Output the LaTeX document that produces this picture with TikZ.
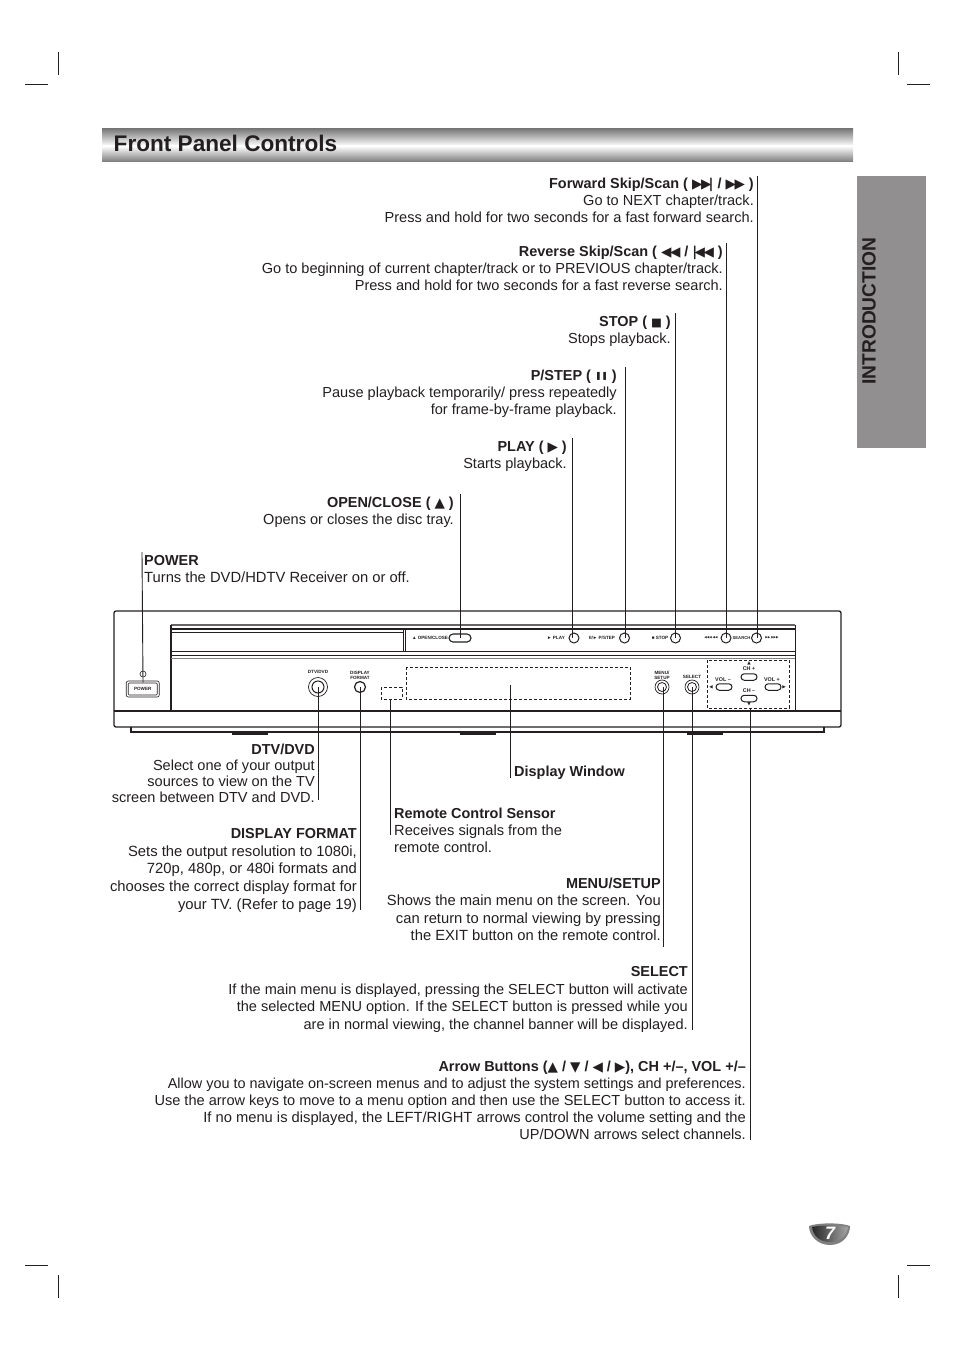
\documentclass[tikz,border=0pt]{standalone}
\usepackage{fontspec}
\setmainfont{Liberation Sans}
\newfontfamily\symf{DejaVu Sans}
\usetikzlibrary{shapes.geometric,shapes.misc}
\definecolor{ink}{HTML}{231F20}
\definecolor{tabgray}{HTML}{918F90}
\newcommand\sy[1]{{\symf\fontsize{13.5}{12}\selectfont #1}}
\newcommand\kn{\kern-1.4pt}
\newcommand\hd[1]{{\fontsize{14.45}{17}\selectfont\bfseries #1}}
\newcommand\ls[2]{{\fontsize{#1}{17}\selectfont #2}}
\tikzset{
 lead/.style={draw=ink,line width=0.9pt},
 crop/.style={draw=ink,line width=0.8pt},
 rtext/.style={anchor=north east,align=right,inner xsep=3pt,inner ysep=2.5pt,text=ink,font=\fontsize{14.55}{17}\selectfont},
 ltext/.style={anchor=north west,align=left,inner xsep=2pt,inner ysep=2.5pt,text=ink,font=\fontsize{14.65}{17}\selectfont},
 body/.style={draw=ink,line width=1.3pt},
 fine/.style={draw=ink,line width=0.7pt},
 tinylab/.style={inner sep=0pt,text=ink,font=\fontsize{4.6}{5}\selectfont\bfseries},
 smalllab/.style={inner sep=0pt,text=ink,font=\fontsize{5.4}{6}\selectfont\bfseries},
 dashbox/.style={draw=ink,line width=0.7pt,dash pattern=on 3pt off 2pt},
 knob/.style={circle,draw=ink,line width=1pt,fill=white,inner sep=0pt,minimum size=10pt},
 pill/.style={rounded rectangle,draw=ink,line width=1pt,fill=white,inner sep=0pt,minimum width=16pt,minimum height=6.5pt},
 foot/.style={fill=ink,draw=none},
 tri/.style={inner sep=0pt,text=ink,font=\symf\fontsize{4.5}{5}\selectfont},
}
\begin{document}
\begin{tikzpicture}[x=1pt,y=-1pt]
\useasboundingbox (0,0) rectangle (954,1351);
\fill[white] (0,0) rectangle (954,1351);
% crop marks
\foreach \a/\b/\c/\d in {25/84/48/84,58/52/58/75,907/84/930/84,898/52/898/75,25/1265/48/1265,58/1275/58/1298,907/1265/930/1265,898/1275/898/1298}
 \draw[crop] (\a,\b) -- (\c,\d);
% title band
\shade[top color=black!52,bottom color=white] (102,129) rectangle (853,146);
\shade[top color=white,bottom color=black!52] (102,146) rectangle (853,162);
\node[anchor=base west,inner sep=0pt,text=ink,font=\fontsize{22.6}{26}\selectfont\bfseries] (title) at (113.5,152) {Front Panel Controls};
% side tab
\fill[tabgray] (857,176) rectangle (926,448);
\node[rotate=90,inner sep=0pt,text=ink,font=\fontsize{19.2}{20}\selectfont\bfseries] (tab) at (869,311) {INTRODUCTION};
% badge
\fill[black!50] (809,1226) .. controls (818,1222.5) and (841,1222.5) .. (850,1226) .. controls (850,1235) and (843,1245) .. (830,1245) .. controls (817,1245) and (809,1235) .. (809,1226) -- cycle;
\shade[left color=black!85,right color=black!35] (812,1227) .. controls (820,1225) and (839,1225) .. (848,1227) .. controls (847,1235) and (841,1242) .. (830,1242) .. controls (819,1242) and (813,1235) .. (812,1227) -- cycle;
\node[inner sep=0pt,text=white,font=\fontsize{18}{18}\selectfont\bfseries\itshape] (page) at (830,1233.5) {7};
% device
\draw[body,rounded corners=2pt] (114,611) rectangle (841,727);
\draw[body] (114,711) -- (841,711);
\draw[body] (131,727) -- (131,732) -- (824,732) -- (824,727);
\fill[foot] (232,731) rectangle (268,734.5);
\fill[foot] (460,731) rectangle (496,734.5);
\fill[foot] (687,731) rectangle (723,734.5);
\draw[draw=black!60,line width=1.2pt] (171,625) -- (795,625);
\draw[body] (171,629) -- (795,629);
\draw[body] (171,625) -- (171,711);
\draw[fine] (795,625) -- (795,711);
\draw[fine] (171,632) -- (403,632);
\draw[fine] (171,651) -- (795,651);
\draw[fine] (403,629) -- (403,651) (405,629) -- (405,651);
\draw[fine] (171,655) -- (795,655);
\draw[draw=black!50,line width=0.8pt] (171,658) -- (795,658);
% dashed
\draw[dashbox] (406,667) rectangle (630,699);
\draw[dashbox] (381,687) rectangle (402,699);
\draw[dashbox] (707,660) rectangle (789,708);
% controls
\node[draw=ink,rounded corners=2pt,line width=0.6pt,minimum width=33pt,minimum height=16pt,inner sep=0pt] (pwrO) at (142.7,689) {};
\node[draw=ink,rounded corners=1pt,line width=0.6pt,minimum width=29pt,minimum height=12pt,inner sep=0pt,tinylab] (bPower) at (142.7,689) {POWER};
\node[circle,draw=ink,line width=0.6pt,minimum size=6pt,inner sep=0pt] (led) at (143,674) {};
\node[tinylab] (lDtv) at (318,672) {DTV/DVD};
\node[knob,minimum size=19pt,line width=0.7pt] (bDtvO) at (318,687) {};
\node[knob,minimum size=12pt] (bDtv) at (318,687) {};
\node[tinylab,align=center] (lDisp) at (360,675) {DISPLAY\\FORMAT};
\node[knob,minimum size=11pt,line width=1.2pt] (bDisp) at (360,687) {};
\node[tinylab] (lOpen) at (430,638) {▲ OPEN/CLOSE};
\node[pill,minimum width=22pt,minimum height=8pt,line width=1.1pt] (bOpen) at (460,638) {};
\node[tinylab] (lPlay) at (556,638) {► PLAY};
\node[knob] (bPlay) at (574,638) {};
\node[tinylab] (lStep) at (602,638) {II/► P/STEP};
\node[knob] (bStep) at (624.5,638) {};
\node[tinylab] (lStop) at (660,638) {■ STOP};
\node[knob] (bStop) at (675.5,638) {};
\node[tinylab,font=\symf\fontsize{3.2}{5}\selectfont] (lRev) at (711,638) {◀◀◀ ◀◀};
\node[knob] (bRev) at (726,638) {};
\node[tinylab,font=\fontsize{4.2}{5}\selectfont\bfseries] (lSearch) at (741.5,638) {SEARCH};
\node[knob] (bFwd) at (756.5,638) {};
\node[tinylab,font=\symf\fontsize{3.2}{5}\selectfont] (lFwd) at (772,638) {▶▶ ▶▶▶};
\node[tinylab,align=center] (lMenu) at (662,675) {MENU/\\SETUP};
\node[knob,minimum size=14pt,line width=0.7pt] (bMenuO) at (662,687) {};
\node[knob,minimum size=9pt,line width=0.8pt] (bMenu) at (662,687) {};
\node[tinylab] (lSel) at (692,677) {SELECT};
\node[knob,minimum size=14pt,line width=0.7pt] (bSelO) at (692,687) {};
\node[knob,minimum size=9pt,line width=0.8pt] (bSel) at (692,687) {};
\node[tri] (tUp) at (749,663) {▲};
\node[smalllab] (lChP) at (749,668.5) {CH +};
\node[pill] (bChP) at (749,677) {};
\node[smalllab] (lVolM) at (723,679.5) {VOL –};
\node[tri] (tL) at (711,687) {◀};
\node[pill] (bVolM) at (724,687) {};
\node[smalllab] (lVolP) at (772,679.5) {VOL +};
\node[pill] (bVolP) at (773,687) {};
\node[tri] (tR) at (784,687) {▶};
\node[smalllab] (lChM) at (749,691) {CH –};
\node[pill] (bChM) at (749,698.5) {};
\node[tri] (tDn) at (749,704.5) {▼};
\coordinate (bWin) at (510,685);
\coordinate (bRemote) at (390,699);
\coordinate (bArrow) at (750,708);
% upper texts
\node[rtext,inner ysep=1.5pt] (fwd) at (757,176) {\hd{Forward Skip/Scan ( \sy{▶\kn▶\kn\kn|} / \sy{▶\kn▶} )}\\Go to NEXT chapter/track.\\\ls{14.6}{Press and hold for two seconds for a fast forward search.}};
\node[rtext] (rev) at (726,243) {\hd{Reverse Skip/Scan ( \sy{◀\kn◀} / \sy{|\kn\kn◀\kn◀} )}\\Go to beginning of current chapter/track or to PREVIOUS chapter/track.\\Press and hold for two seconds for a fast reverse search.};
\node[rtext,inner xsep=4pt] (stop) at (675,313) {\hd{STOP ( {\symf\fontsize{11.5}{12}\selectfont ■} )}\\Stops playback.};
\node[rtext,inner xsep=8pt] (step) at (625,367) {\hd{P/STEP ( \raisebox{1.5pt}{\symf\fontsize{8}{12}\selectfont ❚\kern-0.5pt❚} )}\\Pause playback temporarily/ press repeatedly\\for frame-by-frame playback.};
\node[rtext,inner xsep=5pt] (play) at (572,438) {\hd{PLAY ( \sy{▶} )}\\Starts playback.};
\node[rtext,inner xsep=6pt] (open) at (460,494) {\hd{OPEN/CLOSE ( \sy{▲} )}\\Opens or closes the disc tray.};
\node[ltext,inner ysep=3.5pt,font=\fontsize{14.75}{17}\selectfont] (power) at (142,552) {\hd{POWER}\\Turns the DVD/HDTV Receiver on or off.};
% lower texts
\node[rtext,font=\fontsize{14.55}{16.2}\selectfont] (dtv) at (318,741) {\hd{DTV/DVD}\\Select one of your output\\sources to view on the TV\\screen between DTV and DVD.};
\node[rtext,font=\fontsize{14.8}{17.6}\selectfont] (fmt) at (360,826) {\hd{DISPLAY FORMAT}\\Sets the output resolution to 1080i,\\720p, 480p, or 480i formats and\\chooses the correct display format for\\your TV. (Refer to page 19)};
\node[ltext] (win) at (512,763) {\hd{Display Window}};
\node[ltext] (remote) at (392,805) {\hd{Remote Control Sensor}\\Receives signals from the\\remote control.};
\node[rtext,inner xsep=2pt,font=\fontsize{14.75}{17.6}\selectfont] (menu) at (663,875) {\hd{MENU/SETUP}\\Shows the main menu on the screen. You\\can return to normal viewing by pressing\\the EXIT button on the remote control.};
\node[rtext,inner xsep=4pt,font=\fontsize{14.55}{17.4}\selectfont] (sel) at (692,964) {\hd{SELECT}\\If the main menu is displayed, pressing the SELECT button will activate\\the selected MENU option. If the SELECT button is pressed while you\\are in normal viewing, the channel banner will be displayed.};
\node[rtext,inner xsep=4pt,font=\fontsize{14.55}{17.2}\selectfont] (arr) at (750,1058) {\hd{Arrow Buttons (\sy{▲}{} / \sy{▼}{} / \sy{◀}{} / \sy{▶}), CH +/–, VOL +/–}\\\ls{14.42}{Allow you to navigate on-screen menus and to adjust the system settings and preferences.}\\Use the arrow keys to move to a menu option and then use the SELECT button to access it.\\\ls{14.72}{If no menu is displayed, the LEFT/RIGHT arrows control the volume setting and the}\\UP/DOWN arrows select channels.};
% free ends
\coordinate (eDtv) at (318,800);
\coordinate (eFmt) at (360,910);
\coordinate (eWin) at (510,778);
\coordinate (eRemote) at (390,835);
\coordinate (eMenu) at (663,947);
\coordinate (eSel) at (692,1030);
\coordinate (eArr) at (750,1140);
% connectors
\draw[lead] (fwd.north east) -- (fwd.north east |- bFwd.center);
\draw[lead] (rev.north east) -- (bRev.center);
\draw[lead] (stop.north east) -- (stop.north east |- bStop.center);
\draw[lead] (step.north east) -- (step.north east |- bStep.center);
\draw[lead] (play.north east) -- (play.north east |- bPlay.center);
\draw[lead] (open.north east) -- (bOpen.center);
\draw[lead] (power.north west) -- (led.center |- bPower.north);
\draw[lead] (bDtv.center) -- (eDtv);
\draw[lead] (bDisp.center) -- (eFmt);
\draw[lead] (bWin) -- (eWin);
\draw[lead] (bRemote) -- (eRemote);
\draw[lead] (eMenu |- bMenu.center) -- (eMenu);
\draw[lead] (bSel.center) -- (eSel);
\draw[lead] (bArrow) -- (eArr);
\end{tikzpicture}
\end{document}
